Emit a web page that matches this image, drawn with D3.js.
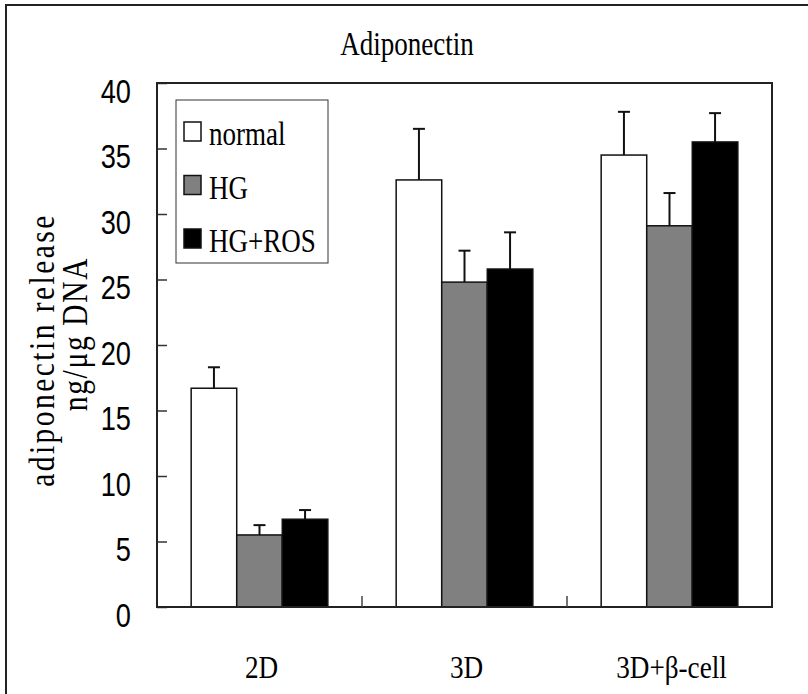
<!DOCTYPE html>
<html>
<head>
    <title>Adiponectin</title>
    <script src="https://d3js.org/d3.v7.min.js"></script>
    <style>
        body { margin: 0; background: #fff; }
    </style>
</head>
<body>
    <div id="chart"></div>

    <script>
        // Groups, series and values
        const groups = ["2D", "3D", "3D+\u03b2-cell"];
        const series = ["normal", "HG", "HG+ROS"];
        const seriesColors = ["#ffffff", "#808080", "#000000"];
        const normalVals = [16.7, 32.6, 34.5];
        const hgVals = [5.5, 24.8, 29.1];
        const rosVals = [6.7, 25.8, 35.5];
        const normalErr = [1.6, 3.9, 3.3];
        const hgErr = [0.75, 2.4, 2.5];
        const rosErr = [0.7, 2.8, 2.2];
        const yTicks = [0, 5, 10, 15, 20, 25, 30, 35, 40];

        const valueRows = [normalVals, hgVals, rosVals];
        const errRows = [normalErr, hgErr, rosErr];
        const bars = [];
        groups.forEach((g, gi) => {
            series.forEach((s, si) => {
                bars.push({ group: g, series: s, si: si, value: valueRows[si][gi], err: errRows[si][gi] });
            });
        });

        const W = 808, H = 694;
        const plot = { left: 157, right: 772, top: 83, bottom: 607 };

        const svg = d3.select("#chart")
            .append("svg")
            .attr("width", W)
            .attr("height", H);

        // outer frame (only left and top edges show in the picture)
        svg.append("rect")
            .attr("x", 6).attr("y", 5)
            .attr("width", W + 20).attr("height", H + 20)
            .attr("fill", "none")
            .attr("stroke", "#222")
            .attr("stroke-width", 2);

        // scales
        const x0 = d3.scaleBand()
            .domain(groups)
            .range([plot.left, plot.right])
            .paddingInner(0)
            .paddingOuter(0);

        const x1 = d3.scaleBand()
            .domain(series)
            .range([0, x0.bandwidth()])
            .paddingInner(0)
            .paddingOuter(0.75);

        const y = d3.scaleLinear()
            .domain([0, 40])
            .range([plot.bottom, plot.top]);

        const serif = "Liberation Serif, serif";
        const sans = "Liberation Sans, Arial, sans-serif";

        // title
        svg.append("text")
            .attr("transform", "translate(407,55) scale(0.82,1)")
            .attr("text-anchor", "middle")
            .attr("font-family", serif)
            .attr("font-size", 33)
            .text("Adiponectin");

        // y axis: ticks point inward, labels sit a little below each tick
        const yAxis = svg.append("g")
            .attr("transform", `translate(${plot.left},0)`)
            .call(d3.axisLeft(y).tickValues(yTicks).tickSize(-10).tickPadding(0));
        yAxis.select(".domain").remove();
        yAxis.selectAll(".tick line")
            .attr("stroke", "#333")
            .attr("stroke-width", 1.5);
        yAxis.selectAll(".tick text")
            .attr("x", null)
            .attr("dy", null)
            .attr("transform", "translate(-26,19) scale(0.8,1)")
            .attr("font-family", sans)
            .attr("font-size", 34)
            .attr("fill", "#000");

        // y axis title
        svg.append("text")
            .attr("transform", "translate(54,350) rotate(-90) scale(0.82,1)")
            .attr("text-anchor", "middle")
            .attr("font-family", serif)
            .attr("font-size", 36)
            .attr("letter-spacing", 3)
            .text("adiponectin release");
        svg.append("text")
            .attr("transform", "translate(87,334) rotate(-90) scale(0.82,1)")
            .attr("text-anchor", "middle")
            .attr("font-family", serif)
            .attr("font-size", 36)
            .attr("letter-spacing", 2)
            .text("ng/\u03bcg DNA");

        // bars
        svg.append("g")
            .selectAll("rect")
            .data(bars)
            .join("rect")
            .attr("x", d => x0(d.group) + x1(d.series))
            .attr("y", d => y(d.value))
            .attr("width", x1.bandwidth())
            .attr("height", d => y(0) - y(d.value))
            .attr("fill", d => seriesColors[d.si])
            .attr("stroke", "#111")
            .attr("stroke-width", 1.5);

        // error bars (upper only)
        const eb = svg.append("g")
            .selectAll("g")
            .data(bars)
            .join("g")
            .attr("stroke", "#111")
            .attr("stroke-width", 2);
        eb.append("line")
            .attr("x1", d => x0(d.group) + x1(d.series) + x1.bandwidth() / 2)
            .attr("x2", d => x0(d.group) + x1(d.series) + x1.bandwidth() / 2)
            .attr("y1", d => y(d.value))
            .attr("y2", d => y(d.value + d.err));
        eb.append("line")
            .attr("x1", d => x0(d.group) + x1(d.series) + x1.bandwidth() / 2 - 6)
            .attr("x2", d => x0(d.group) + x1(d.series) + x1.bandwidth() / 2 + 6)
            .attr("y1", d => y(d.value + d.err))
            .attr("y2", d => y(d.value + d.err));

        // plot frame
        svg.append("rect")
            .attr("x", plot.left)
            .attr("y", plot.top)
            .attr("width", plot.right - plot.left)
            .attr("height", plot.bottom - plot.top)
            .attr("fill", "none")
            .attr("stroke", "#222")
            .attr("stroke-width", 2);

        // x ticks between groups (pointing inward)
        svg.append("g")
            .selectAll("line")
            .data(groups.slice(1))
            .join("line")
            .attr("x1", d => x0(d))
            .attr("x2", d => x0(d))
            .attr("y1", plot.bottom)
            .attr("y2", plot.bottom - 11)
            .attr("stroke", "#444")
            .attr("stroke-width", 1.5);

        // x labels
        svg.append("g")
            .selectAll("text")
            .data(groups)
            .join("text")
            .attr("transform", d => `translate(${x0(d) + x0.bandwidth() / 2 + 2},678) scale(0.85,1)`)
            .attr("text-anchor", "middle")
            .attr("font-family", serif)
            .attr("font-size", 32)
            .text(d => d);

        // legend
        const legend = svg.append("g").attr("transform", "translate(176,100)");
        legend.append("rect")
            .attr("width", 152)
            .attr("height", 163)
            .attr("fill", "#fff")
            .attr("stroke", "#333")
            .attr("stroke-width", 1);
        const items = legend.selectAll("g.item")
            .data(series)
            .join("g")
            .attr("class", "item")
            .attr("transform", (d, i) => `translate(8,${45 + i * 53.5})`);
        items.append("rect")
            .attr("y", -23)
            .attr("width", 17)
            .attr("height", 19)
            .attr("fill", (d, i) => seriesColors[i])
            .attr("stroke", "#111")
            .attr("stroke-width", 1.5);
        items.append("text")
            .attr("transform", "translate(25,0) scale(0.82,1)")
            .attr("font-family", serif)
            .attr("font-size", 33)
            .text(d => d);
    </script>
</body>
</html>
